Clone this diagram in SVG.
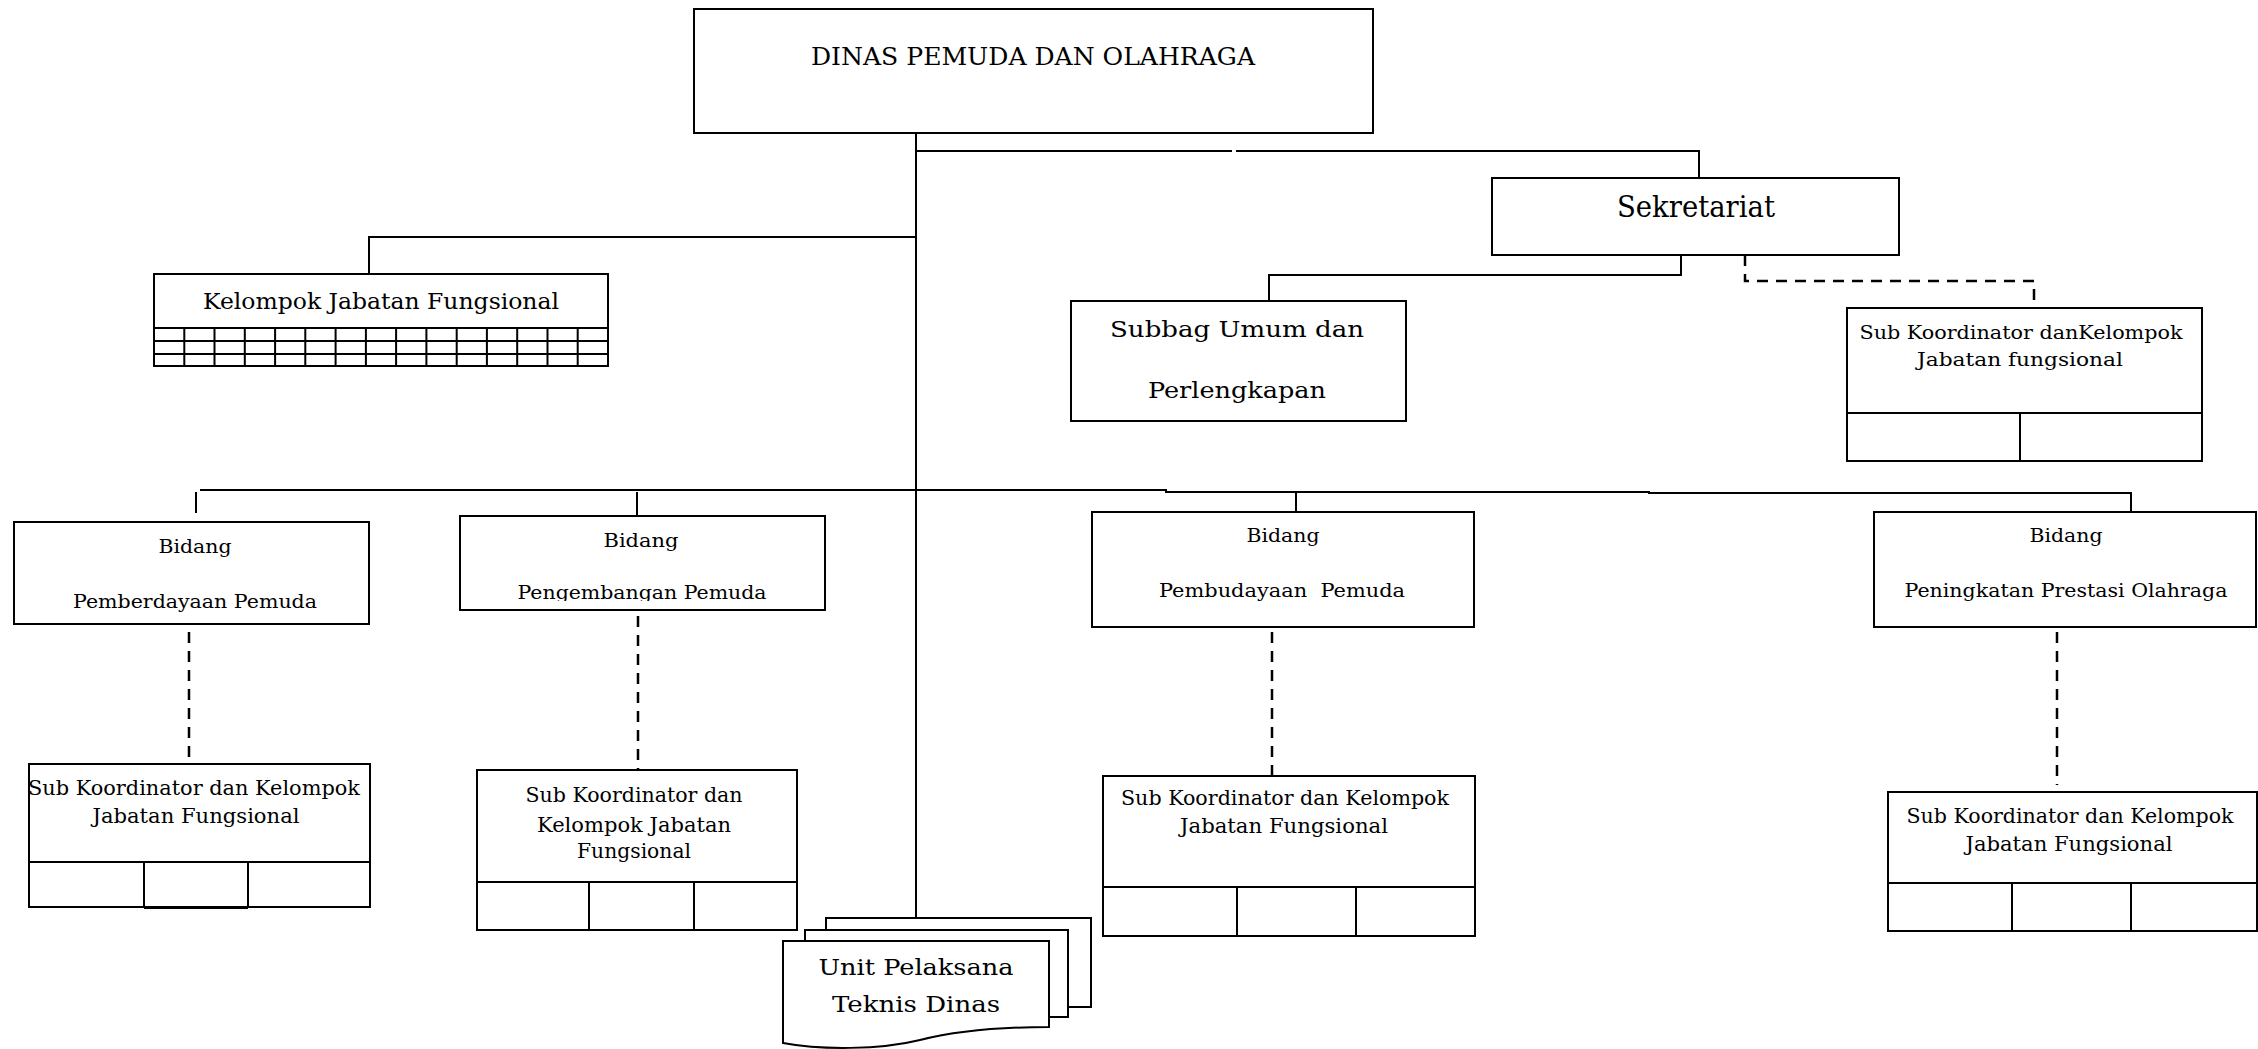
<svg xmlns="http://www.w3.org/2000/svg" width="2258" height="1049" viewBox="0 0 2258 1049">
  <style>
    .box { fill: #fff; stroke: #000; stroke-width: 2; }
    .cell { fill: none; stroke: #000; stroke-width: 2; }
    .ln { fill: none; stroke: #000; stroke-width: 2; }
    .dash { fill: none; stroke: #000; stroke-width: 2.5; stroke-dasharray: 11 8; }
    text { font-family: "DejaVu Serif", "Liberation Serif", serif; fill: #000; text-anchor: middle; }
  </style>
  <defs>
    <clipPath id="clip-pengembangan">
      <rect x="460" y="516" width="365" height="85"/>
    </clipPath>
  </defs>

  <rect width="2258" height="1049" fill="#fff"/>

  <!-- connectors -->
  <g id="connectors">
    <!-- trunk from head office down to UPTD -->
    <line class="ln" x1="916" y1="133" x2="916" y2="918"/>
    <!-- to Sekretariat -->
    <polyline class="ln" points="916,151 1232,151"/>
    <polyline class="ln" points="1236,151 1699,151 1699,178"/>
    <!-- to Kelompok Jabatan Fungsional -->
    <polyline class="ln" points="916,237 369,237 369,274"/>
    <!-- Sekretariat to Subbag -->
    <polyline class="ln" points="1681,255 1681,275 1269,275 1269,301"/>
    <!-- Sekretariat to its sub coordinator (dashed) -->
    <polyline class="dash" points="1745,255 1745,281 2034,281 2034,308"/>
    <!-- bus to the four Bidang -->
    <polyline class="ln" points="200,490 1166,490 1166,492 1649,492 1649,493 2131,493 2131,514"/>
    <line class="ln" x1="196" y1="492" x2="196" y2="513"/>
    <line class="ln" x1="637" y1="492" x2="637" y2="516"/>
    <line class="ln" x1="1296" y1="492" x2="1296" y2="512"/>
    <!-- Bidang to sub coordinators (dashed) -->
    <line class="ln" x1="189" y1="615" x2="189" y2="624"/>
    <line class="dash" x1="189" y1="632" x2="189" y2="763"/>
    <line class="dash" x1="638" y1="616" x2="638" y2="769"/>
    <line class="dash" x1="1272" y1="632" x2="1272" y2="775"/>
    <line class="dash" x1="2057" y1="632" x2="2057" y2="785"/>
  </g>

  <!-- head office -->
  <g id="dinas">
    <rect class="box" x="694" y="9" width="679" height="124"/>
    <text x="1033" y="65" font-size="25" textLength="444" lengthAdjust="spacingAndGlyphs">DINAS PEMUDA DAN OLAHRAGA</text>
  </g>

  <!-- functional group with grid -->
  <g id="kelompok-jabatan">
    <rect class="box" x="154" y="274" width="454" height="92"/>
    <text x="381" y="309" font-size="23" textLength="356" lengthAdjust="spacingAndGlyphs">Kelompok Jabatan Fungsional</text>
    <path class="cell" d="M154,328 H608 M154,341 H608 M154,354 H608
      M184.3,328 V366 M214.5,328 V366 M244.8,328 V366 M275.1,328 V366 M305.3,328 V366
      M335.6,328 V366 M365.9,328 V366 M396.1,328 V366 M426.4,328 V366 M456.7,328 V366
      M486.9,328 V366 M517.2,328 V366 M547.5,328 V366 M577.7,328 V366"/>
  </g>

  <!-- secretariat -->
  <g id="sekretariat">
    <rect class="box" x="1492" y="178" width="407" height="77"/>
    <text x="1696" y="217" font-size="29" textLength="158" lengthAdjust="spacingAndGlyphs">Sekretariat</text>
  </g>

  <g id="subbag-umum">
    <rect class="box" x="1071" y="301" width="335" height="120"/>
    <text x="1237" y="337" font-size="23" textLength="254" lengthAdjust="spacingAndGlyphs">Subbag Umum dan</text>
    <text x="1237" y="398" font-size="23" textLength="178" lengthAdjust="spacingAndGlyphs">Perlengkapan</text>
  </g>

  <g id="subkoor-sekretariat">
    <rect class="box" x="1847" y="308" width="355" height="153"/>
    <line class="cell" x1="1847" y1="413" x2="2202" y2="413"/>
    <line class="cell" x1="2020" y1="413" x2="2020" y2="461"/>
    <text x="2021" y="339" font-size="18" textLength="323" lengthAdjust="spacingAndGlyphs">Sub Koordinator danKelompok</text>
    <text x="2020" y="366" font-size="18" textLength="206" lengthAdjust="spacingAndGlyphs">Jabatan fungsional</text>
  </g>

  <!-- Bidang -->
  <g id="bidang-pemberdayaan">
    <rect class="box" x="14" y="522" width="355" height="102"/>
    <text x="195" y="553" font-size="19" textLength="73" lengthAdjust="spacingAndGlyphs">Bidang</text>
    <text x="195" y="608" font-size="19" textLength="244" lengthAdjust="spacingAndGlyphs">Pemberdayaan Pemuda</text>
  </g>

  <g id="bidang-pengembangan">
    <rect class="box" x="460" y="516" width="365" height="94"/>
    <text x="641" y="547" font-size="19" textLength="75" lengthAdjust="spacingAndGlyphs">Bidang</text>
    <text x="642" y="599" font-size="19" textLength="249" lengthAdjust="spacingAndGlyphs" clip-path="url(#clip-pengembangan)">Pengembangan Pemuda</text>
  </g>

  <g id="bidang-pembudayaan">
    <rect class="box" x="1092" y="512" width="382" height="115"/>
    <text x="1283" y="542" font-size="19" textLength="73" lengthAdjust="spacingAndGlyphs">Bidang</text>
    <text x="1282" y="597" font-size="19" textLength="246" lengthAdjust="spacingAndGlyphs" xml:space="preserve">Pembudayaan  Pemuda</text>
  </g>

  <g id="bidang-peningkatan">
    <rect class="box" x="1874" y="512" width="382" height="115"/>
    <text x="2066" y="542" font-size="19" textLength="73" lengthAdjust="spacingAndGlyphs">Bidang</text>
    <text x="2066" y="597" font-size="19" textLength="323" lengthAdjust="spacingAndGlyphs">Peningkatan Prestasi Olahraga</text>
  </g>

  <!-- sub coordinators under each Bidang -->
  <g id="subkoor-pemberdayaan">
    <rect class="box" x="29" y="764" width="341" height="143"/>
    <path class="cell" d="M29,862 H370 M144,862 V908 M248,862 V908 M144,908 H248"/>
    <text x="194" y="795" font-size="20" textLength="332" lengthAdjust="spacingAndGlyphs">Sub Koordinator dan Kelompok</text>
    <text x="196" y="823" font-size="20" textLength="207" lengthAdjust="spacingAndGlyphs">Jabatan Fungsional</text>
  </g>

  <g id="subkoor-pengembangan">
    <rect class="box" x="477" y="770" width="320" height="160"/>
    <path class="cell" d="M477,882 H797 M589,882 V930 M694,882 V930"/>
    <text x="634" y="802" font-size="20" textLength="217" lengthAdjust="spacingAndGlyphs">Sub Koordinator dan</text>
    <text x="634" y="832" font-size="20" textLength="194" lengthAdjust="spacingAndGlyphs">Kelompok Jabatan</text>
    <text x="634" y="858" font-size="20" textLength="114" lengthAdjust="spacingAndGlyphs">Fungsional</text>
  </g>

  <g id="subkoor-pembudayaan">
    <rect class="box" x="1103" y="776" width="372" height="160"/>
    <path class="cell" d="M1103,887 H1475 M1237,887 V936 M1356,887 V936"/>
    <text x="1285" y="805" font-size="20" textLength="328" lengthAdjust="spacingAndGlyphs">Sub Koordinator dan Kelompok</text>
    <text x="1284" y="833" font-size="20" textLength="208" lengthAdjust="spacingAndGlyphs">Jabatan Fungsional</text>
  </g>

  <g id="subkoor-peningkatan">
    <rect class="box" x="1888" y="792" width="369" height="139"/>
    <path class="cell" d="M1888,883 H2257 M2012,883 V931 M2131,883 V931"/>
    <text x="2070" y="823" font-size="20" textLength="327" lengthAdjust="spacingAndGlyphs">Sub Koordinator dan Kelompok</text>
    <text x="2069" y="851" font-size="20" textLength="207" lengthAdjust="spacingAndGlyphs">Jabatan Fungsional</text>
  </g>

  <!-- technical units: stacked documents -->
  <g id="uptd">
    <rect class="box" x="826" y="918" width="265" height="89"/>
    <rect class="box" x="805" y="930" width="263" height="87"/>
    <path class="box" d="M783,941 H1049 V1027 C1000,1027 960,1030 920,1040 C880,1050 820,1050 783,1043 Z"/>
    <text x="916" y="975" font-size="23" textLength="195" lengthAdjust="spacingAndGlyphs">Unit Pelaksana</text>
    <text x="916" y="1012" font-size="23" textLength="168" lengthAdjust="spacingAndGlyphs">Teknis Dinas</text>
  </g>
</svg>
